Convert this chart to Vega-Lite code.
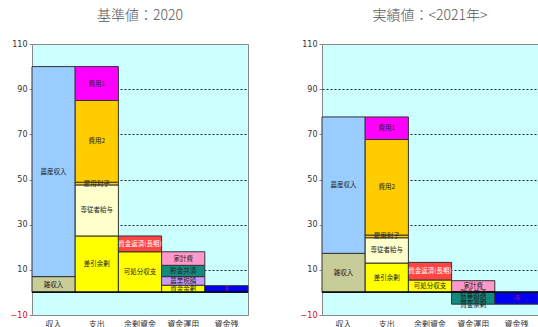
{
  "$schema": "https://vega.github.io/schema/vega-lite/v6.json",
  "padding": {"left": 9, "top": 8, "right": 1, "bottom": 2},
  "spacing": 50,
  "data": {"values": [
    {"panel": "base", "cat": "収入", "item": "雑収入", "y0": 0, "y1": 7, "label": "雑収入"},
    {"panel": "base", "cat": "収入", "item": "農産収入", "y0": 7, "y1": 100, "label": "農産収入"},
    {"panel": "base", "cat": "支出", "item": "差引余剰", "y0": 0, "y1": 25, "label": "差引余剰"},
    {"panel": "base", "cat": "支出", "item": "専従者給与", "y0": 25, "y1": 47.6, "label": "専従者給与"},
    {"panel": "base", "cat": "支出", "item": "雇用利子", "y0": 47.6, "y1": 48.8, "label": "雇用利子"},
    {"panel": "base", "cat": "支出", "item": "費用2", "y0": 48.8, "y1": 85, "label": "費用2"},
    {"panel": "base", "cat": "支出", "item": "費用1", "y0": 85, "y1": 100, "label": "費用1"},
    {"panel": "base", "cat": "余剰資金", "item": "可処分収支", "y0": 0, "y1": 18, "label": "可処分収支"},
    {"panel": "base", "cat": "余剰資金", "item": "資金返済(長期)", "y0": 18, "y1": 25, "label": "資金返済(長期)"},
    {"panel": "base", "cat": "資金運用", "item": "資金余剰", "y0": 0, "y1": 3.2, "label": "資金余剰"},
    {"panel": "base", "cat": "資金運用", "item": "農業税額", "y0": 3.2, "y1": 7, "label": "農業税額"},
    {"panel": "base", "cat": "資金運用", "item": "貯金共済", "y0": 7, "y1": 12, "label": "貯金共済"},
    {"panel": "base", "cat": "資金運用", "item": "家計費", "y0": 12, "y1": 18, "label": "家計費"},
    {"panel": "base", "cat": "資金残", "item": "資金残", "y0": 0, "y1": 3, "label": "3"},
    {"panel": "act", "cat": "収入", "item": "雑収入", "y0": 0, "y1": 17.3, "label": "雑収入"},
    {"panel": "act", "cat": "収入", "item": "農産収入", "y0": 17.3, "y1": 77.7, "label": "農産収入"},
    {"panel": "act", "cat": "支出", "item": "差引余剰", "y0": 0, "y1": 13, "label": "差引余剰"},
    {"panel": "act", "cat": "支出", "item": "専従者給与", "y0": 13, "y1": 24.2, "label": "専従者給与"},
    {"panel": "act", "cat": "支出", "item": "雇用利子", "y0": 24.2, "y1": 25.4, "label": "雇用利子"},
    {"panel": "act", "cat": "支出", "item": "費用2", "y0": 25.4, "y1": 67.7, "label": "費用2"},
    {"panel": "act", "cat": "支出", "item": "費用1", "y0": 67.7, "y1": 77.7, "label": "費用1"},
    {"panel": "act", "cat": "余剰資金", "item": "可処分収支", "y0": 0, "y1": 5.5, "label": "可処分収支"},
    {"panel": "act", "cat": "余剰資金", "item": "資金返済(長期)", "y0": 5.5, "y1": 13.3, "label": "資金返済(長期)"},
    {"panel": "act", "cat": "資金運用", "item": "家計費", "y0": 0.4, "y1": 5.2, "label": "家計費"},
    {"panel": "act", "cat": "資金運用", "item": "貯金共済", "y0": -5.2, "y1": 0.4, "label": ""},
    {"panel": "act", "cat": "資金運用", "item": "貯金共済", "y0": -0.3, "y1": -0.3, "label": "貯金共済"},
    {"panel": "act", "cat": "資金運用", "item": "農業税額", "y0": -2.7, "y1": -2.7, "label": "農業税額"},
    {"panel": "act", "cat": "資金運用", "item": "資金余剰", "y0": -5.7, "y1": -5.7, "label": "資金余剰"},
    {"panel": "act", "cat": "資金残", "item": "資金残", "y0": -5.2, "y1": 0, "label": "-5"}
  ]},
  "hconcat": [
    {
      "title": {"text": "基準値：2020"},
      "width": 216, "height": 271,
      "transform": [{"filter": "datum.panel == 'base'"}],
      "layer": [
        {
          "transform": [{"filter": "datum.y0 != datum.y1"}],
          "mark": {"type": "bar", "stroke": "#333", "strokeWidth": 1},
          "encoding": {
            "x": {"field": "cat", "type": "nominal", "title": null,
                  "scale": {"domain": ["収入", "支出", "余剰資金", "資金運用", "資金残"], "paddingInner": 0, "paddingOuter": 0}},
            "y": {"field": "y0", "type": "quantitative", "title": null,
                  "scale": {"domain": [-10, 110], "nice": false, "zero": false},
                  "axis": {"values": [-10, 10, 30, 50, 70, 90, 110]}},
            "y2": {"field": "y1"},
            "color": {"field": "item", "type": "nominal", "legend": null,
                      "scale": {"domain": ["農産収入", "雑収入", "費用1", "費用2", "雇用利子", "専従者給与", "差引余剰", "可処分収支", "資金返済(長期)", "家計費", "貯金共済", "農業税額", "資金余剰", "資金残"],
                                "range": ["#99CCFF", "#C8CC99", "#FF00FF", "#FFCC00", "#FFCC00", "#FFFFCC", "#FFFF00", "#FFFF00", "#FF4444", "#FF99CC", "#138A80", "#CC99FF", "#FFFF00", "#0000EE"]}}
          }
        },
        {"mark": {"type": "rule", "color": "#111", "strokeWidth": 1}, "encoding": {"y": {"datum": 0}}},
        {
          "transform": [{"calculate": "(datum.y0 + datum.y1) / 2", "as": "ym"}],
          "mark": {"type": "text", "fontSize": 6.5, "font": "Noto Sans CJK JP"},
          "encoding": {
            "x": {"field": "cat", "type": "nominal"},
            "y": {"field": "ym", "type": "quantitative"},
            "text": {"field": "label"},
            "color": {"condition": [{"test": "datum.item == '資金返済(長期)'", "value": "#ffffff"}, {"test": "datum.item == '資金残'", "value": "#E0007A"}], "value": "#222"}
          }
        }
      ]
    },
    {
      "title": {"text": "実績値：<2021年>"},
      "width": 216, "height": 271,
      "transform": [{"filter": "datum.panel == 'act'"}],
      "layer": [
        {
          "transform": [{"filter": "datum.y0 != datum.y1"}],
          "mark": {"type": "bar", "stroke": "#333", "strokeWidth": 1},
          "encoding": {
            "x": {"field": "cat", "type": "nominal", "title": null,
                  "scale": {"domain": ["収入", "支出", "余剰資金", "資金運用", "資金残"], "paddingInner": 0, "paddingOuter": 0}},
            "y": {"field": "y0", "type": "quantitative", "title": null,
                  "scale": {"domain": [-10, 110], "nice": false, "zero": false},
                  "axis": {"values": [-10, 10, 30, 50, 70, 90, 110]}},
            "y2": {"field": "y1"},
            "color": {"field": "item", "type": "nominal", "legend": null,
                      "scale": {"domain": ["農産収入", "雑収入", "費用1", "費用2", "雇用利子", "専従者給与", "差引余剰", "可処分収支", "資金返済(長期)", "家計費", "貯金共済", "農業税額", "資金余剰", "資金残"],
                                "range": ["#99CCFF", "#C8CC99", "#FF00FF", "#FFCC00", "#FFCC00", "#FFFFCC", "#FFFF00", "#FFFF00", "#FF4444", "#FF99CC", "#138A80", "#CC99FF", "#FFFF00", "#0000EE"]}}
          }
        },
        {"mark": {"type": "rule", "color": "#111", "strokeWidth": 1}, "encoding": {"y": {"datum": 0}}},
        {
          "transform": [{"calculate": "(datum.y0 + datum.y1) / 2", "as": "ym"}],
          "mark": {"type": "text", "fontSize": 6.5, "font": "Noto Sans CJK JP"},
          "encoding": {
            "x": {"field": "cat", "type": "nominal"},
            "y": {"field": "ym", "type": "quantitative"},
            "text": {"field": "label"},
            "color": {"condition": [{"test": "datum.item == '資金返済(長期)'", "value": "#ffffff"}, {"test": "datum.item == '資金残'", "value": "#E0007A"}], "value": "#222"}
          }
        }
      ]
    }
  ],
  "config": {
    "font": "Noto Sans CJK JP",
    "view": {"fill": "#CCFFFF", "stroke": "#888888", "strokeWidth": 1},
    "title": {"fontSize": 14, "fontWeight": 300, "color": "#555", "offset": 17, "font": "Noto Sans CJK JP"},
    "axisY": {
      "labelFontSize": 8, "labelFont": "DejaVu Sans",
      "labelColor": {"expr": "datum.value < 0 ? '#E00000' : '#333333'"},
      "tickSize": 3, "tickColor": "#888", "labelPadding": 2,
      "domain": false,
      "grid": true, "gridColor": "#222", "gridDash": [2, 2],
      "gridOpacity": {"expr": "datum.value > 0 && datum.value < 110 ? 1 : 0"}
    },
    "axisX": {
      "labelAngle": 0, "labelFontSize": 8, "labelColor": "#333", "labelPadding": 5,
      "ticks": false, "domain": false, "grid": false
    }
  }
}
